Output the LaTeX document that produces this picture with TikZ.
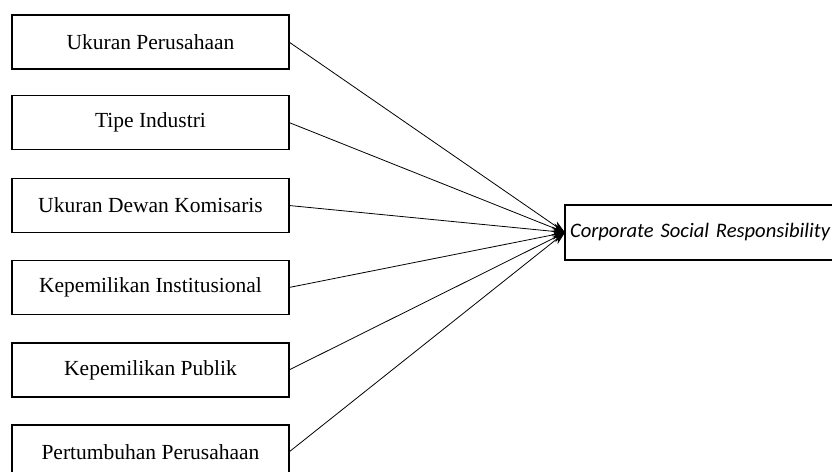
\documentclass[tikz,border=0pt]{standalone}
\usepackage{fontspec}
\setmainfont{Liberation Serif}
\newfontfamily\csrfont[WordSpace=0.75]{Carlito}
\usetikzlibrary{arrows.meta}

\definecolor{c000000}{RGB}{0,0,0}
\definecolor{cffffff}{RGB}{255,255,255}
\def \globalscale {1.000000}

\tikzset{
  varbox/.style={draw=c000000,fill=cffffff,line width=1.6pt,minimum width=277pt,
    minimum height=54pt,font=\fontsize{21.5}{26}\selectfont},
  varline/.style={draw=c000000,line width=0.8pt,
    -{Stealth[length=13pt,width=9pt]}}
}

\begin{document}
\begin{tikzpicture}[y=1pt, x=1pt, yscale=\globalscale,xscale=\globalscale, every node/.append style={scale=\globalscale}, inner sep=0pt, outer sep=0pt]
  \useasboundingbox[fill=cffffff] (0.0, 0.0) rectangle (832.0, 471.0);



  \node[varbox] (ukuran) at (150.5, 429.0){Ukuran Perusahaan};



  \node[varbox] (tipe) at (150.5, 348.5){Tipe Industri};



  \node[varbox] (dewan) at (150.5, 265.5){Ukuran Dewan Komisaris};



  \node[varbox] (institusi) at (150.5, 183.5){Kepemilikan Institusional};



  \node[varbox] (publik) at (150.5, 101.0){Kepemilikan Publik};



  \node[varbox] (tumbuh) at (150.5, 19.0){Pertumbuhan Perusahaan};



  \node[draw=c000000,line width=1.6pt,minimum width=340pt,minimum height=55pt,
  anchor=west,align=left,text width=330pt,inner xsep=5pt,
  font=\csrfont\itshape\fontsize{20.6}{25}\selectfont] (csr) at (565.0, 238.5){Corporate Social Responsibility};



  \path[varline] (ukuran.east) -- (csr.west);



  \path[varline] (tipe.east) -- (csr.west);



  \path[varline] (dewan.east) -- (csr.west);



  \path[varline] (institusi.east) -- (csr.west);



  \path[varline] (publik.east) -- (csr.west);



  \path[varline] (tumbuh.east) -- (csr.west);




\end{tikzpicture}
\end{document}
